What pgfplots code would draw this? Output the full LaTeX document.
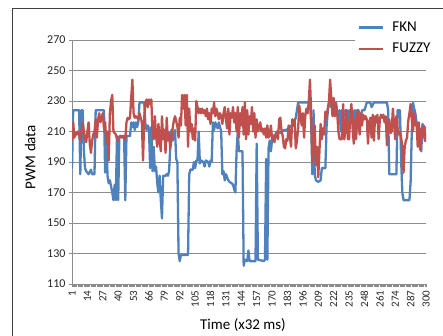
\documentclass[border=0pt]{standalone}
\usepackage{fontspec}
\setmainfont{Carlito}
\usepackage{pgfplots}
\pgfplotsset{compat=1.18}
\definecolor{fkn}{HTML}{4F81BD}
\definecolor{fuz}{HTML}{C0504D}
\definecolor{gridc}{HTML}{8C8C8C}
\definecolor{framec}{HTML}{404040}
\definecolor{txt}{HTML}{262626}
\begin{document}
\begin{tikzpicture}[x=1pt,y=1pt]
\useasboundingbox (0,0) rectangle (443,335);
\clip (0,0) rectangle (443,335);
\fill[white] (0,0) rectangle (443,335);
\draw[framec, line width=1pt] (12.7,-5) -- (12.7,326.7) -- (450,326.7);
\begin{axis}[
  at={(72pt,51pt)}, anchor=south west, scale only axis,
  width=354pt, height=244pt,
  xmin=1, xmax=300, ymin=110, ymax=270,
  xtick={1,14,...,300},
  minor xtick={1,2,...,300},
  ytick={110,130,...,270},
  axis x line*=bottom, axis y line*=left,
  axis line style={gridc, line width=0.8pt},
  tick align=outside,
  major tick length=3pt, minor tick length=3pt,
  every tick/.style={gridc, line width=0.6pt},
  ymajorgrids, grid style={gridc, line width=0.8pt},
  /pgf/number format/assume math mode=true,
  yticklabel style={font=\fontsize{12}{14}\selectfont, text=txt},
  xticklabel style={font=\fontsize{11}{13}\selectfont, text=txt, rotate=90, anchor=east},
  ylabel={PWM data}, xlabel={Time (x32 ms)},
  ylabel style={font=\fontsize{15}{17}\selectfont, at={(axis description cs:-0.118,0.52)}, anchor=center},
  xlabel style={font=\fontsize{15}{17}\selectfont, at={(axis description cs:0.483,-0.168)}, anchor=center},
  legend style={at={(axis description cs:0.7994,1.095)}, anchor=north west, draw=none, fill=white,
    font=\fontsize{15}{17}\selectfont, row sep=6pt, inner sep=3pt},
  legend cell align=left,
  legend image code/.code={\draw[#1] (0pt,0pt) -- (24pt,0pt); \path (30pt,0pt);},
  every axis plot/.append style={line width=2.3pt, line join=round},
]
\addplot[fkn, mark=none] coordinates {
(1,186)(2,224)(7,224)(8,182)(9,224)(10,224)(11,198)(12,186)(13,184)(15,182)(17,185)(18,182)(20,182)(21,224)(28,224)(29,183)(30,208)(31,181)(32,176)(33,178)(34,174)(35,170)(36,165)(37,175)(38,165)(39,207)(40,165)(41,207)(45,207)(46,165)(47,207)(50,207)(51,216)(52,213)(53,216)(54,211)(55,216)(56,213)(57,216)(58,229)(62,229)(63,215)(64,211)(65,214)(66,212)(67,186)(68,213)(69,184)(70,200)(71,184)(72,187)(73,176)(74,170)(75,181)(76,165)(77,153)(78,181)(80,181)(81,182)(82,181)(83,184)(84,200)(85,211)(86,204)(88,211)(89,192)(90,190)(91,130)(92,125)(93,129)(99,129)(100,182)(101,185)(103,185)(104,190)(105,186)(106,191)(107,191)(108,210)(109,189)(110,191)(112,190)(113,187)(114,191)(116,190)(117,187)(118,191)(119,190)(120,216)(121,211)(122,216)(124,212)(125,216)(127,210)(128,182)(129,184)(130,178)(131,182)(132,180)(133,178)(134,177)(136,176)(137,175)(138,172)(139,170)(140,197)(141,210)(142,197)(145,197)(146,122)(147,126)(149,125)(150,132)(151,125)(156,125)(157,202)(158,126)(163,125)(164,126)(165,192)(166,126)(167,199)(168,204)(169,197)(170,205)(171,207)(173,208)(175,210)(177,209)(180,211)(182,211)(185,213)(188,215)(190,219)(192,229)(202,229)(203,215)(204,182)(205,224)(206,182)(207,178)(209,177)(211,178)(212,186)(215,186)(216,213)(217,223)(218,229)(220,226)(222,229)(224,229)(225,222)(226,218)(227,224)(228,210)(229,224)(230,224)(231,220)(232,224)(233,224)(234,213)(235,224)(236,216)(237,224)(238,224)(239,210)(240,224)(241,218)(242,224)(243,224)(244,216)(246,224)(248,224)(250,229)(253,229)(254,226)(256,229)(267,229)(268,224)(269,182)(275,182)(276,224)(278,224)(279,191)(280,170)(281,165)(286,165)(287,177)(288,210)(289,229)(290,225)(291,222)(292,216)(293,212)(294,210)(295,210)(296,197)(297,215)(298,210)(299,213)(300,203)
};
\addlegendentry{FKN}
\addplot[fuz, mark=none] coordinates {
(1,204)(2,216)(3,206)(4,209)(5,208)(6,210)(7,208)(8,204)(9,210)(10,216)(11,210)(12,205)(13,203)(14,210)(15,216)(16,202)(17,196)(18,204)(19,208)(20,210)(21,218)(22,206)(23,218)(24,222)(25,216)(26,219)(27,222)(28,212)(29,216)(30,202)(31,210)(32,191)(33,222)(34,230)(35,234)(36,210)(37,209)(38,208)(39,205)(40,204)(41,206)(42,207)(43,206)(44,207)(45,206)(46,205)(47,216)(48,219)(49,218)(50,219)(51,232)(52,244)(53,222)(54,219)(55,220)(56,219)(57,218)(58,222)(59,219)(60,216)(61,191)(62,219)(63,229)(64,231)(65,226)(66,231)(67,228)(68,231)(69,210)(70,205)(71,220)(72,207)(73,200)(74,215)(75,205)(76,197)(77,220)(78,205)(79,211)(80,196)(81,219)(82,204)(83,209)(84,199)(85,205)(86,212)(87,217)(88,220)(89,217)(90,213)(91,206)(92,219)(93,214)(94,234)(95,225)(96,234)(97,214)(98,234)(99,200)(100,225)(101,210)(102,215)(103,205)(104,212)(105,204)(106,230)(107,226)(108,222)(109,225)(110,222)(111,225)(112,222)(113,224)(114,220)(115,225)(116,218)(117,222)(118,215)(119,225)(120,222)(121,229)(122,220)(123,225)(124,222)(125,218)(126,222)(127,220)(128,215)(129,222)(130,226)(131,218)(132,212)(133,225)(134,208)(135,222)(136,219)(137,226)(138,216)(139,222)(140,210)(141,226)(142,206)(143,222)(144,214)(145,226)(146,208)(147,229)(148,205)(149,224)(150,208)(151,220)(152,215)(153,226)(154,210)(155,222)(156,206)(157,218)(158,210)(159,212)(160,216)(161,210)(162,212)(163,208)(164,212)(165,206)(166,214)(167,206)(168,208)(169,214)(170,205)(171,206)(172,203)(173,208)(174,210)(175,205)(176,218)(177,219)(178,210)(179,207)(180,200)(181,199)(182,205)(183,204)(184,214)(185,207)(186,200)(187,218)(188,214)(189,218)(190,199)(191,204)(192,212)(193,227)(194,220)(195,214)(196,222)(197,206)(198,220)(199,225)(200,222)(201,230)(202,244)(203,222)(204,190)(205,200)(206,214)(207,188)(208,200)(209,180)(210,197)(211,215)(212,205)(213,212)(214,208)(215,223)(216,219)(217,225)(218,229)(219,244)(220,232)(221,220)(222,232)(223,220)(224,228)(225,222)(226,210)(227,205)(228,205)(229,205)(230,228)(231,205)(232,212)(233,224)(234,205)(235,205)(236,220)(237,228)(238,212)(239,202)(240,218)(241,205)(242,224)(243,215)(244,208)(245,222)(246,214)(247,221)(248,218)(249,220)(250,218)(251,202)(252,216)(253,219)(254,206)(255,221)(256,204)(257,220)(258,216)(259,221)(260,205)(261,218)(262,221)(263,219)(264,221)(265,216)(266,220)(267,201)(268,215)(269,218)(270,209)(271,210)(272,225)(273,215)(274,205)(275,220)(276,212)(277,208)(278,210)(279,206)(280,200)(281,183)(282,200)(283,204)(284,206)(285,217)(286,222)(287,228)(288,218)(289,210)(290,222)(291,214)(292,216)(293,200)(294,216)(295,198)(296,212)(297,206)(298,214)(299,204)(300,210)
};
\addlegendentry{FUZZY}
\end{axis}
\end{tikzpicture}
\end{document}
